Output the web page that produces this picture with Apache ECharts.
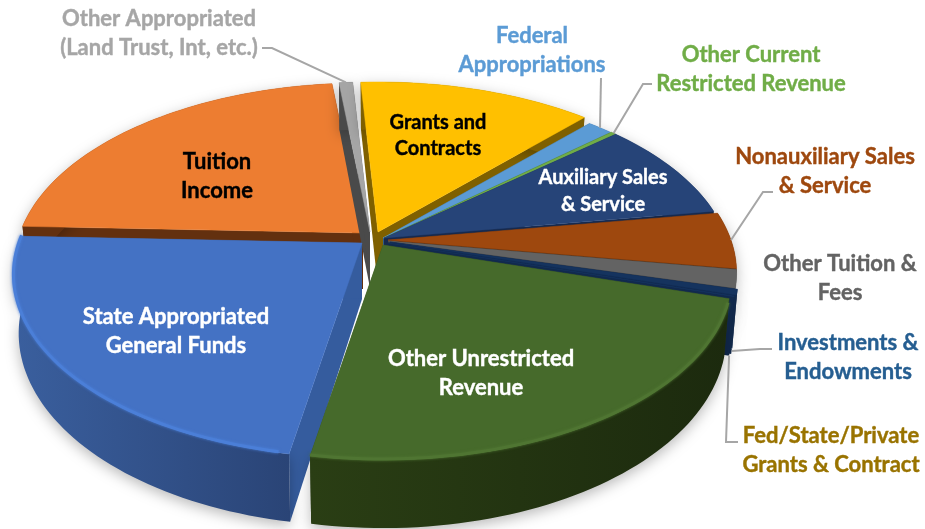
<!DOCTYPE html>
<html>
<head>
<meta charset="utf-8">
<script src="https://cdn.jsdelivr.net/npm/echarts@6/dist/echarts.min.js"></script>
<style>html,body{margin:0;padding:0;background:#fff}#c{width:925px;height:529px}</style>
</head>
<body>
<div id="c"></div>
<script>
// ---- data ----
const categories = [
  "Other Appropriated\n(Land Trust, Int, etc.)",
  "Grants and\nContracts",
  "Federal\nAppropriations",
  "Other Current\nRestricted Revenue",
  "Auxiliary Sales\n& Service",
  "Nonauxiliary Sales\n& Service",
  "Other Tuition &\nFees",
  "Investments &\nEndowments",
  "Fed/State/Private\nGrants & Contract",
  "Other Unrestricted\nRevenue",
  "State Appropriated\nGeneral Funds",
  "Tuition\nIncome"
];
const values = [0.75, 12.85, 1.4, 0.3, 8.9, 5.0, 1.6, 0.5, 0.05, 23.15, 22.8, 22.7];

// ---- style and layout ----
const topColors  = ["#a5a5a5","#ffc000","#5b9bd5","#70ad47","#264478","#9e480e","#636363","#15335e","#15335e","#466a2b","#4472c4","#ed7d31"];
const wallStart  = ["#4a4a4a","#7f6000","#2e5a85","#38571f","#16294d","#5a2a08","#3a3a3a","#11294d","#11294d","#2a3e14","#3a5f9e","#63300f"];
const wallEnd    = ["#4a4a4a","#7f6000","#2e5a85","#38571f","#16294d","#4d2204","#2e2e2e","#0d2140","#0d2140","#1c2a0e","#2a4476","#63300f"];
const rimColors  = [null,null,null,null,null,null,null,null,null,"#4f7532","#4b7fd8",null];
const apexes = [[370,232],[378,232],[383,238],[384,238],[384,238],[388,240],[388,241],[390,242],[388,243],[383,245],[362,243],[363,233]];
const drawOrder = [11,0,1,2,3,4,5,6,7,8,10,9];
const labelLayout = [
  {x:159,y:33, size:22,lh:29,color:"#a6a6a6",knee:[[262,48],[272,48]]},
  {x:438,y:136,size:20,lh:26,color:"#000"},
  {x:532,y:50, size:22,lh:29,color:"#5b9bd5",knee:[[601,78]]},
  {x:751,y:69, size:22,lh:29,color:"#70ad47",knee:[[652,84],[643,84]]},
  {x:603,y:191,size:20,lh:27,color:"#fff"},
  {x:825,y:171,size:22,lh:29,color:"#9e480e",knee:[[773,192],[763,192]]},
  {x:840,y:278,size:22,lh:29,color:"#636363"},
  {x:848,y:357,size:22,lh:29,color:"#255e91",knee:[[772,349],[760,349]],wall:1},
  {x:831,y:450,size:22,lh:29,color:"#997300",knee:[[738,442],[726,442]],wall:1},
  {x:481,y:373,size:22,lh:29,color:"#fff"},
  {x:176,y:331,size:22,lh:29,color:"#fff"},
  {x:217,y:176,size:22,lh:29,color:"#000"}
];
const START = 353.9, R = 343, r = 176.7, k = 0.178, DEPTH = 56, BASE_SHRINK = 0.985;

const total = values.reduce((a,b)=>a+b,0);
function angles(i){
  let sum = 0; for (let j=0;j<i;j++) sum += values[j];
  return [START + sum/total*360, START + (sum+values[i])/total*360];
}
function proj(deg, o){
  const a = deg*Math.PI/180, Y = -Math.cos(a), X = Math.sin(a), s = 1/(1-k*Y);
  return [o[0]+R*X*s, o[1]+r*Y*s, s];
}
function down(p, o){ return [o[0]+(p[0]-o[0])*BASE_SHRINK, p[1]+DEPTH*p[2]]; }

function renderItem(params, api){
  const i = api.value(1);
  const o = apexes[i], [a0,a1] = angles(i);
  const arc = [];
  const steps = Math.max(2, Math.ceil((a1-a0)/1.5));
  for (let n=0;n<=steps;n++) arc.push(proj(a0+(a1-a0)*n/steps, o));
  const base = drawOrder.indexOf(i)*10;
  const topPts = [[o[0],o[1]]].concat(arc.map(p=>[p[0],p[1]]));
  const apexDown = [o[0], o[1]+DEPTH];
  const grad = new echarts.graphic.LinearGradient(0,0,1,0,[{offset:0,color:wallStart[i]},{offset:1,color:wallEnd[i]}]);
  const children = [];
  // cut faces
  [arc[0],arc[arc.length-1]].forEach(p=>{
    children.push({type:'polygon',z2:base+1,silent:true,
      shape:{points:[[o[0],o[1]],[p[0],p[1]],down(p,o),apexDown]},
      style:{fill: i===10 ? "#355c9e" : wallStart[i]}});
  });
  // outer wall
  children.push({type:'polygon',z2:base+2,silent:true,
    shape:{points:arc.map(p=>[p[0],p[1]]).concat(arc.slice().reverse().map(p=>down(p,o)))},
    style:{fill:grad,shadowBlur:14,shadowColor:'rgba(0,0,0,0.28)',shadowOffsetY:4}});
  // top face
  children.push({type:'polygon',z2:base+3,silent:true,
    shape:{points:topPts},style:{fill:topColors[i],stroke:topColors[i],lineWidth:0.5}});
  if (rimColors[i]) {
    children.push({type:'polyline',z2:base+4,silent:true,
      shape:{points:arc.slice(1).map(p=>[p[0],p[1]-1])},
      style:{stroke:rimColors[i],lineWidth:3,fill:null,shadowBlur:3,shadowColor:rimColors[i]}});
  }
  // label
  const L = labelLayout[i];
  children.push({type:'text',z2:500,silent:true,
    style:{x:L.x,y:L.y,text:categories[i],fill:L.color,align:'center',verticalAlign:'middle',
      font:'bold '+L.size+'px Lato, sans-serif',lineHeight:L.lh,stroke:L.color,lineWidth:0.4}});
  // leader line ending on the slice edge
  if (L.knee) {
    const m = proj((a0+a1)/2, o);
    const end = L.wall ? down(m,o) : [m[0],m[1]];
    children.push({type:'polyline',z2:400,silent:true,
      shape:{points:L.knee.concat([[end[0],end[1]]])},
      style:{stroke:'#a6a6a6',lineWidth:2,fill:null}});
  }
  return {type:'group',children};
}

const chart = echarts.init(document.getElementById('c'),null,{renderer:'canvas'});
chart.setOption({
  animation:false,
  backgroundColor:'#fff',
  series:[{
    type:'custom',
    coordinateSystem:'none',
    renderItem,
    data: values.map((v,i)=>[v,i])
  }]
});
</script>
</body>
</html>
